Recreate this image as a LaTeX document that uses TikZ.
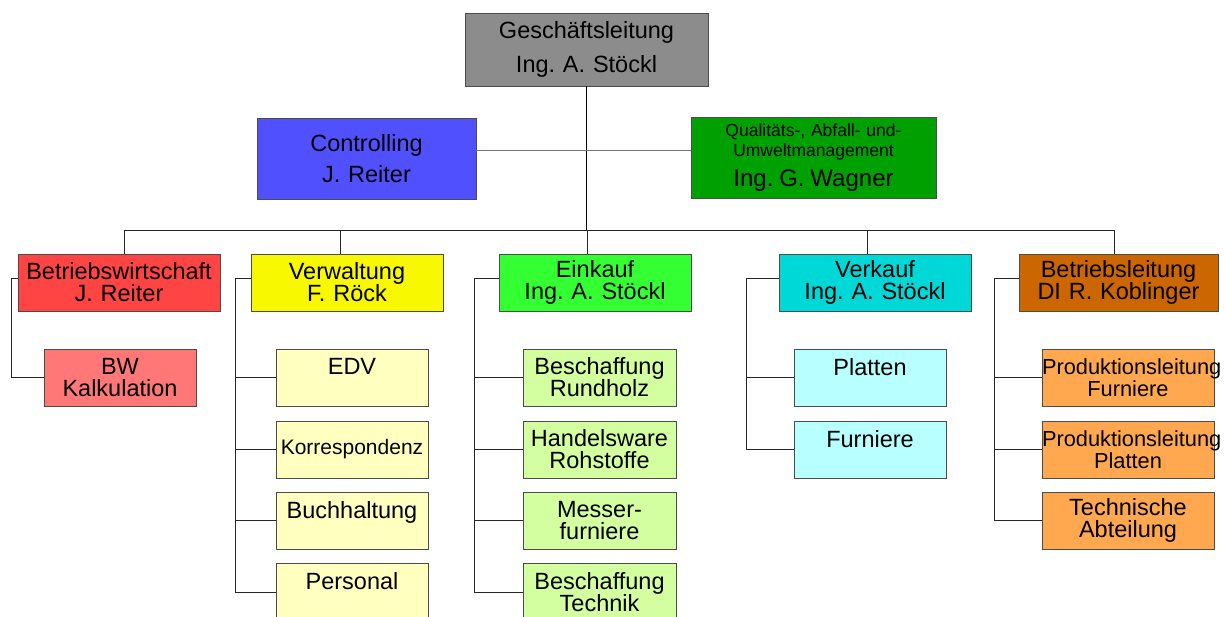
\documentclass[tikz,border=0pt]{standalone}
\usepackage{fontspec}
\setmainfont{Liberation Sans}
\usepackage{tikz}

\definecolor{glgray}{RGB}{140,140,140}
\definecolor{ctrlblue}{RGB}{80,80,255}
\definecolor{qualgreen}{RGB}{0,160,0}
\definecolor{bwred}{RGB}{255,68,68}
\definecolor{verwyellow}{RGB}{248,248,0}
\definecolor{einkgreen}{RGB}{51,255,51}
\definecolor{verkcyan}{RGB}{0,216,216}
\definecolor{betrbrown}{RGB}{204,102,0}
\definecolor{bwklight}{RGB}{255,119,119}
\definecolor{verwlight}{RGB}{255,255,192}
\definecolor{einklight}{RGB}{212,255,160}
\definecolor{verklight}{RGB}{184,255,255}
\definecolor{betrlight}{RGB}{255,168,80}

\tikzset{
  unit/.style n args={3}{draw=black!70, line width=0.9pt, fill=#1, text width=#2pt,
    minimum height=#3pt, inner sep=0pt, align=center, font=\fontsize{23.5}{22}\selectfont},
  link/.style={draw=black!85, line width=0.9pt},
}

\begin{document}
\frenchspacing
\begin{tikzpicture}[x=1pt,y=-1pt]
    \useasboundingbox (0,0) rectangle (1224,617);
    % Geschaeftsleitung und Stabsstellen
    \node[unit={glgray}{243}{73}] (gl) at (586.5,49.5) {Geschäftsleitung\\[12pt]Ing. A. Stöckl};
    \node[unit={ctrlblue}{219}{81}] (ctrl) at (366.5,158.5) {Controlling\\[9pt]J. Reiter};
    \node[unit={qualgreen}{245}{81}, font=\fontsize{17.5}{20}\selectfont] (qual) at (813.5,157.5)
        {Qualitäts-, Abfall- und-\\Umweltmanagement\\[9pt]{\fontsize{24}{20}\selectfont Ing. G. Wagner}};
    % Abteilungen
    \node[unit={bwred}{202}{57}] (bw) at (119,282.5) {Betriebswirtschaft\\J. Reiter};
    \node[unit={verwyellow}{192}{57}] (verw) at (347,282.5) {Verwaltung\\F. Röck};
    \node[unit={einkgreen}{192}{57}] (eink) at (595,282.5) {Einkauf\\Ing. A. Stöckl};
    \node[unit={verkcyan}{192}{57}] (verk) at (875,282.5) {Verkauf\\Ing. A. Stöckl};
    \node[unit={betrbrown}{199}{57}] (betr) at (1118.5,282.5) {Betriebsleitung\\DI R. Koblinger};
    % Unterbereiche
    \node[unit={bwklight}{152}{57}] (bwk) at (120,377.5) {BW\\Kalkulation};
    \node[unit={verwlight}{152}{57}] (edv) at (352,377.5) {EDV\\~};
    \node[unit={verwlight}{152}{57}, font=\fontsize{21}{22}\selectfont] (korr) at (352,449.5) {Korrespondenz};
    \node[unit={verwlight}{152}{57}] (buch) at (352,520.5) {Buchhaltung\\~};
    \node[unit={verwlight}{152}{57}] (pers) at (352,592) {Personal\\~};
    \node[unit={einklight}{153}{57}] (rund) at (599.5,377.5) {Beschaffung\\Rundholz};
    \node[unit={einklight}{153}{57}] (handel) at (599.5,449.5) {Handelsware\\Rohstoffe};
    \node[unit={einklight}{153}{57}] (messer) at (599.5,520.5) {Messer-\\furniere};
    \node[unit={einklight}{153}{57}] (btech) at (599.5,592) {Beschaffung\\Technik};
    \node[unit={verklight}{152}{57}] (platten) at (870,377.5) {Platten\\~};
    \node[unit={verklight}{152}{57}] (furn) at (870,449.5) {Furniere\\~};
    \node[unit={betrlight}{172}{57}, font=\fontsize{21.8}{22}\selectfont] (pfurn) at (1128,377.5) {Produktionsleitung\\Furniere};
    \node[unit={betrlight}{172}{57}, font=\fontsize{21.8}{22}\selectfont] (pplat) at (1128,449.5) {Produktionsleitung\\Platten};
    \node[unit={betrlight}{172}{57}] (tech) at (1128,520.5) {Technische\\Abteilung};
    % Verbindungen
    \coordinate (bus) at (587,230);
    \coordinate (d1) at (124,230);
    \coordinate (d2) at (340,230);
    \coordinate (d3) at (587,230);
    \coordinate (d4) at (867,230);
    \coordinate (d5) at (1114,230);
    \draw[link, draw=black] (gl.south) -- (gl.south |- bus);
    \draw[link, draw=black!55] ([yshift=8pt]ctrl.east) -- ([yshift=8pt]ctrl.east -| qual.west);
    \draw[link] (d1) -- (d5);
    \foreach \d/\n in {d1/bw, d2/verw, d3/eink, d4/verk, d5/betr}
        \draw[link] (\d) -- (\d |- \n.north);
    \draw[link] ([yshift=4pt]bw.west) -- ++(-6,0) |- (bwk.west);
    \foreach \c in {edv,korr,buch,pers}
        \draw[link] ([yshift=4pt]verw.west) -- ++(-15,0) |- (\c.west);
    \foreach \c in {rund,handel,messer,btech}
        \draw[link] ([yshift=4pt]eink.west) -- ++(-24,0) |- (\c.west);
    \foreach \c in {platten,furn}
        \draw[link] ([yshift=4pt]verk.west) -- ++(-32,0) |- (\c.west);
    \foreach \c in {pfurn,pplat,tech}
        \draw[link] ([yshift=4pt]betr.west) -- ++(-24,0) |- (\c.west);
\end{tikzpicture}
\end{document}
